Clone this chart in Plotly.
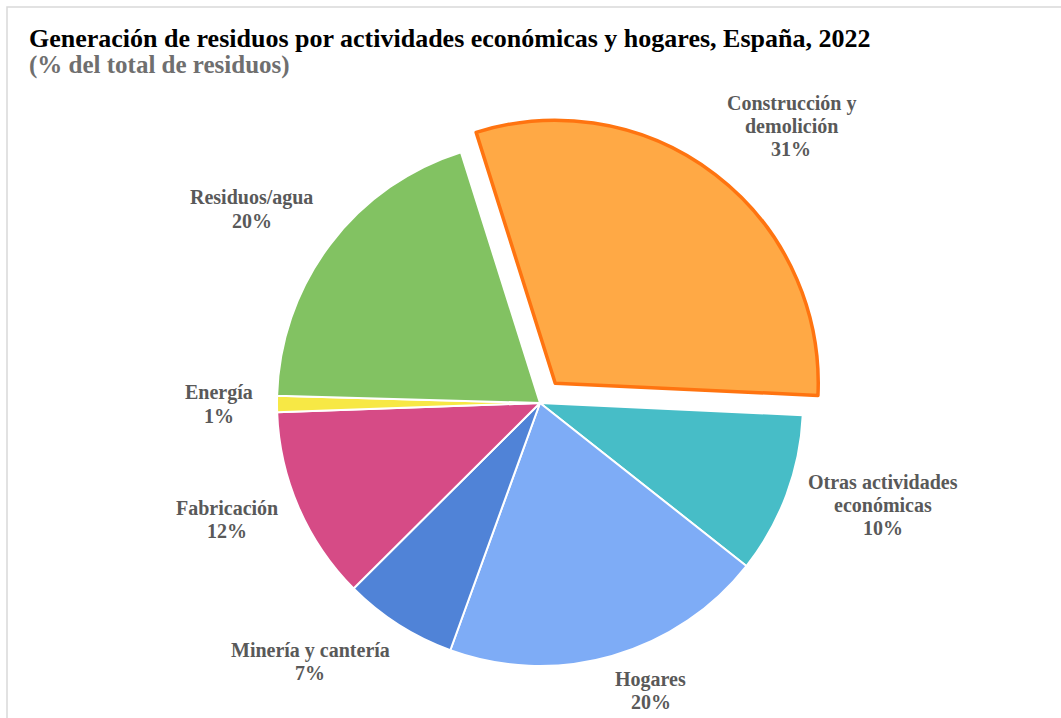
import math
import plotly.graph_objects as go

# ---- data ----
categories = ["Construcción y<br>demolición", "Otras actividades<br>económicas", "Hogares",
              "Minería y cantería", "Fabricación", "Energía", "Residuos/agua"]
values = [30.6, 9.9, 19.9, 7.0, 11.9, 1.0, 19.7]
colors = ["#FFA945", "#47BDC7", "#7EACF6", "#5083D7", "#D64B86", "#F7E845", "#82C262"]
pulls = [0.095, 0, 0, 0, 0, 0, 0]

W, H = 1061, 718
ROT = -17.5
CX, CY, R = 540, 403, 263
BOX = 2 * R * (1 + max(pulls))
FS = 20          # label font size
LS = 23          # label line spacing (px)

# approximate Times-Bold advance widths (per 1000 em) for label block sizing
_w = {" ": 250, "%": 1000, "/": 278, "a": 500, "b": 556, "c": 444, "d": 556, "e": 444,
      "f": 333, "g": 500, "h": 556, "i": 278, "j": 333, "k": 556, "l": 278, "m": 833,
      "n": 556, "o": 500, "p": 556, "q": 556, "r": 444, "s": 389, "t": 333, "u": 556,
      "v": 500, "w": 722, "x": 500, "y": 500, "z": 444, "á": 500, "é": 444, "í": 278,
      "ó": 500, "ñ": 556, "C": 722, "E": 667, "F": 611, "H": 778, "M": 944, "O": 778,
      "R": 722}


def text_w(s):
    return sum(_w.get(ch, 500) for ch in s) / 1000 * FS


fig = go.Figure(go.Pie(
    labels=[c.replace("<br>", " ") for c in categories],
    values=values,
    sort=False,
    direction="clockwise",
    rotation=ROT,
    pull=pulls,
    textinfo="none",
    hoverinfo="label+percent",
    marker=dict(colors=colors,
                line=dict(color=["#FF7410"] + ["#FFFFFF"] * 6,
                          width=[3.5] + [2] * 6)),
    domain=dict(x=[(CX - BOX / 2) / W, (CX + BOX / 2) / W],
                y=[1 - (CY + BOX / 2) / H, 1 - (CY - BOX / 2) / H]),
    showlegend=False,
))

# labels placed outside slices, computed from the data
total = sum(values)
ann = []
start = ROT
for cat, v, p in zip(categories, values, pulls):
    span = v / total * 360
    mid = math.radians(start + span / 2)
    start += span
    s, c = math.sin(mid), math.cos(mid)
    ox = CX + p * R * s
    oy = CY - p * R * c
    d = R + 8 + 16 * abs(s)
    px, py = ox + d * s, oy - d * c
    lines = cat.split("<br>") + [f"{round(v / total * 100)}%"]
    bw = max(text_w(t) for t in lines)
    bh = len(lines) * LS
    if s > 0.2:
        bx = px + bw / 2
    elif s < -0.2:
        bx = px - bw / 2
    else:
        bx = px
    if c > 0.45:
        top = py - bh
    elif c < -0.45:
        top = py
    else:
        top = py - bh / 2 + 6 * (-c)
    for i, t in enumerate(lines):
        ann.append(dict(x=bx / W, y=1 - (top + (i + 0.5) * LS) / H,
                        xref="paper", yref="paper", text=f"<b>{t}</b>",
                        showarrow=False, xanchor="center", yanchor="middle",
                        font=dict(family="Liberation Serif", size=FS, color="#595959")))

ann.append(dict(x=27 / W, y=1 - 39 / H, xref="paper", yref="paper",
                text="<b>Generación de residuos por actividades económicas y hogares, España, 2022</b>",
                showarrow=False, xanchor="left", yanchor="middle",
                font=dict(family="Liberation Serif", size=26, color="#000000")))
ann.append(dict(x=27 / W, y=1 - 65 / H, xref="paper", yref="paper",
                text="<b>(% del total de residuos)</b>",
                showarrow=False, xanchor="left", yanchor="middle",
                font=dict(family="Liberation Serif", size=25, color="#6F6F6F")))

fig.update_layout(
    width=W, height=H,
    margin=dict(l=0, r=0, t=0, b=0),
    paper_bgcolor="white",
    annotations=ann,
    shapes=[dict(type="rect", xref="paper", yref="paper",
                 x0=7 / W, x1=1.01, y0=-0.01, y1=1 - 7 / H,
                 line=dict(color="#D9D9D9", width=1.5))],
)

fig.write_html("out.html")
